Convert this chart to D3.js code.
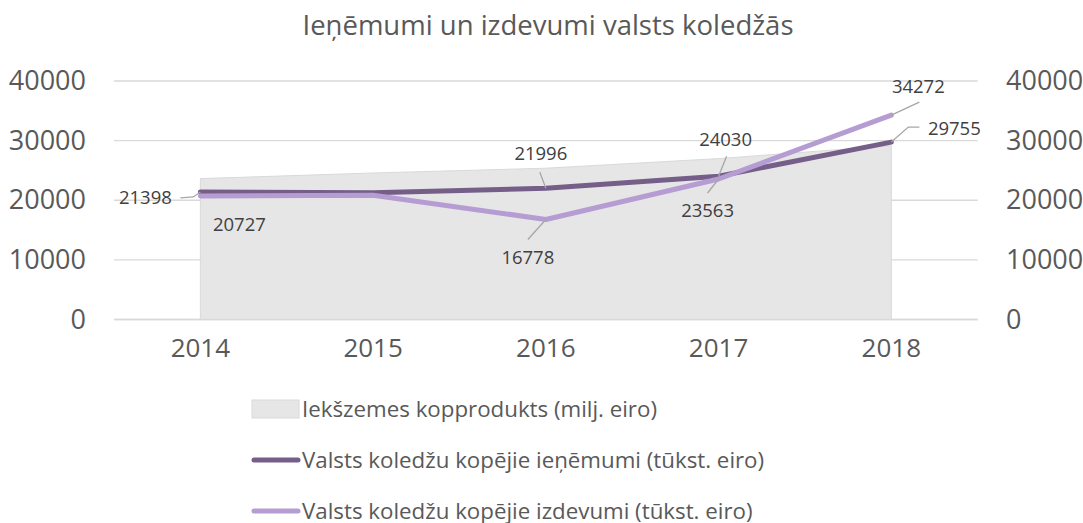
<!DOCTYPE html>
<html><head><meta charset="utf-8">
<script src="https://cdn.jsdelivr.net/npm/d3@7"></script>
<style>
html,body{margin:0;padding:0;background:#fff;}
svg text{font-family:"Open Sans",sans-serif;}
</style>
</head><body>
<svg id="chart" width="1083" height="523"></svg>
<script>
const years = ["2014","2015","2016","2017","2018"];
const gdp = [23627, 24572, 25371, 26984, 29154];
const revenue = [21398, 21250, 21996, 24030, 29755];
const expenses = [20727, 20850, 16778, 23563, 34272];
const yTicks = [0, 10000, 20000, 30000, 40000];
const labelledRevenue = [true, false, true, true, true];
const labelledExpenses = [true, false, true, true, true];
const title = "Ieņēmumi un izdevumi valsts koledžās";
const legendNames = ["Iekšzemes kopprodukts (milj. eiro)", "Valsts koledžu kopējie ieņēmumi (tūkst. eiro)", "Valsts koledžu kopējie izdevumi (tūkst. eiro)"];

// layout (positions/styles)
const layout = {left:114, right:977.7, top:81, bottom:319.5};
const colors = {area:"#e6e6e6", areaStroke:"#d9d9d9", dark:"#755f89", light:"#b59cd2", grid:"#d9d9d9", text:"#595959", label:"#404040", leader:"#a6a6a6"};
// label offsets relative to point: text center [dx,dy], leader path relative points
const revLabelPos = [
  {tx:-55, ty:6, leader:[[-20,6],[-7,5],[0,0]]},
  null,
  {tx:-5, ty:-35, leader:[[-6,-16],[0,0]]},
  {tx:7, ty:-37, leader:[[8,-20],[0,0]]},
  {tx:63, ty:-14, leader:[[28,-15],[17,-15],[0,0]]}
];
const expLabelPos = [
  {tx:39, ty:29, leader:null},
  null,
  {tx:-18, ty:38, leader:[[-18,20],[0,0]]},
  {tx:-11, ty:32, leader:[[-11,14],[0,0]]},
  {tx:27, ty:-29, leader:[[28,-13],[0,0]]}
];

const svg = d3.select("#chart");
const x = d3.scaleBand().domain(years).range([layout.left, layout.right]).padding(0);
const xc = d => x(d) + x.bandwidth()/2;
const y = d3.scaleLinear().domain([0, 40000]).range([layout.bottom, layout.top]);
const y2 = d3.scaleLinear().domain([0, 40000]).range([layout.bottom, layout.top]);

// title
svg.append("text").attr("x", 548).attr("y", 35).attr("text-anchor","middle")
  .attr("font-size", 27.5).attr("fill", colors.text).text(title);

// gridlines
svg.append("g").selectAll("line").data(yTicks).join("line")
  .attr("x1", layout.left).attr("x2", layout.right)
  .attr("y1", d => y(d)).attr("y2", d => y(d))
  .attr("stroke", colors.grid).attr("stroke-width", 1.3);

// area
const area = d3.area().x((d,i) => xc(years[i])).y0(y(0)).y1(d => y(d));
svg.append("path").datum(gdp).attr("d", area)
  .attr("fill", colors.area).attr("stroke", colors.areaStroke).attr("stroke-width", 1);

// redraw baseline over area
svg.append("line").attr("x1", layout.left).attr("x2", layout.right)
  .attr("y1", y(0)).attr("y2", y(0)).attr("stroke", colors.grid).attr("stroke-width", 1.3);

// lines
const line = d3.line().x((d,i) => xc(years[i])).y(d => y(d));
svg.append("path").datum(revenue).attr("d", line).attr("fill","none")
  .attr("stroke", colors.dark).attr("stroke-width", 5).attr("stroke-linecap","round").attr("stroke-linejoin","round");
svg.append("path").datum(expenses).attr("d", line).attr("fill","none")
  .attr("stroke", colors.light).attr("stroke-width", 5).attr("stroke-linecap","round").attr("stroke-linejoin","round");

// axes
const yAxisL = d3.axisLeft(y).tickValues(yTicks).tickSize(0).tickPadding(0).tickFormat(d3.format("d"));
const gL = svg.append("g").attr("transform", `translate(86,0)`).call(yAxisL);
const yAxisR = d3.axisRight(y2).tickValues(yTicks).tickSize(0).tickPadding(0).tickFormat(d3.format("d"));
const gR = svg.append("g").attr("transform", `translate(1006,0)`).call(yAxisR);
const xAxis = d3.axisBottom(x).tickSize(0).tickPadding(0);
const gX = svg.append("g").attr("transform", `translate(0,337)`).call(xAxis);
[gL, gR, gX].forEach(g => {
  g.select(".domain").remove();
  g.selectAll("text").attr("font-size", 27).attr("fill", colors.text).attr("font-family", '"Open Sans",sans-serif');
});
gX.selectAll("text").attr("font-size", 26).attr("dy", "0.75em");

// data labels
function drawLabels(values, flags, pos) {
  values.forEach((v, i) => {
    if (!flags[i] || !pos[i]) return;
    const px = xc(years[i]), py = y(v), p = pos[i];
    if (p.leader) {
      svg.append("path")
        .attr("d", d3.line()(p.leader.map(q => [px + q[0], py + q[1]])))
        .attr("fill","none").attr("stroke", colors.leader).attr("stroke-width", 1.3);
    }
    svg.append("text").attr("x", px + p.tx).attr("y", py + p.ty)
      .attr("text-anchor","middle").attr("dy","0.35em")
      .attr("font-size", 18.5).attr("fill", colors.label).text(d3.format("d")(v));
  });
}
drawLabels(revenue, labelledRevenue, revLabelPos);
drawLabels(expenses, labelledExpenses, expLabelPos);

// legend
const legY = [409, 460, 511];
const lg = svg.append("g");
lg.append("rect").attr("x", 252).attr("y", legY[0]-9).attr("width", 47).attr("height", 18)
  .attr("fill", colors.area).attr("stroke", colors.areaStroke);
lg.append("line").attr("x1", 254).attr("x2", 298).attr("y1", legY[1]).attr("y2", legY[1])
  .attr("stroke", colors.dark).attr("stroke-width", 5).attr("stroke-linecap","round");
lg.append("line").attr("x1", 254).attr("x2", 298).attr("y1", legY[2]).attr("y2", legY[2])
  .attr("stroke", colors.light).attr("stroke-width", 5).attr("stroke-linecap","round");
lg.selectAll("text.leg").data(legendNames).join("text").attr("class","leg")
  .attr("x", 302).attr("y", (d,i) => legY[i]).attr("dy","0.35em")
  .attr("font-size", 22.3).attr("fill", colors.text).text(d => d);
</script>
</body></html>
